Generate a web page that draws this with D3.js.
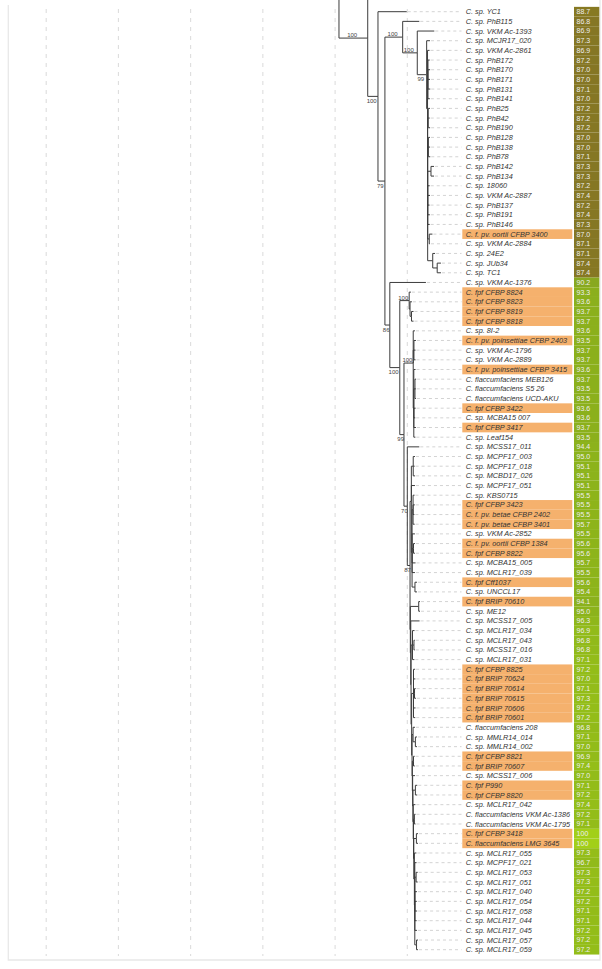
<!DOCTYPE html>
<html>
<head>
<meta charset="utf-8">
<script src="https://cdn.jsdelivr.net/npm/d3@7"></script>
<style>
  body { margin: 0; background: #fff; }
  text { font-family: "Liberation Sans", Arial, sans-serif; }
</style>
</head>
<body>
<div id="tree"></div>
<script>
// leaf labels, top to bottom
const taxa = [
  "C. sp. YC1","C. sp. PhB115","C. sp. VKM Ac-1393","C. sp. MCJR17_020","C. sp. VKM Ac-2861",
  "C. sp. PhB172","C. sp. PhB170","C. sp. PhB171","C. sp. PhB131","C. sp. PhB141",
  "C. sp. PhB25","C. sp. PhB42","C. sp. PhB190","C. sp. PhB128","C. sp. PhB138",
  "C. sp. PhB78","C. sp. PhB142","C. sp. PhB134","C. sp. 18060","C. sp. VKM Ac-2887",
  "C. sp. PhB137","C. sp. PhB191","C. sp. PhB146","C. f. pv. oortii CFBP 3400","C. sp. VKM Ac-2884",
  "C. sp. 24E2","C. sp. JUb34","C. sp. TC1","C. sp. VKM Ac-1376","C. fpf CFBP 8824",
  "C. fpf CFBP 8823","C. fpf CFBP 8819","C. fpf CFBP 8818","C. sp. 8I-2","C. f. pv. poinsettiae CFBP 2403",
  "C. sp. VKM Ac-1796","C. sp. VKM Ac-2889","C. f. pv. poinsettiae CFBP 3415","C. flaccumfaciens MEB126","C. flaccumfaciens S5 26",
  "C. flaccumfaciens UCD-AKU","C. fpf CFBP 3422","C. sp. MCBA15 007","C. fpf CFBP 3417","C. sp. Leaf154",
  "C. sp. MCSS17_011","C. sp. MCPF17_003","C. sp. MCPF17_018","C. sp. MCBD17_026","C. sp. MCPF17_051",
  "C. sp. KBS0715","C. fpf CFBP 3423","C. f. pv. betae CFBP 2402","C. f. pv. betae CFBP 3401","C. sp. VKM Ac-2852",
  "C. f. pv. oortii CFBP 1384","C. fpf CFBP 8822","C. sp. MCBA15_005","C. sp. MCLR17_039","C. fpf Cff1037",
  "C. sp. UNCCL17","C. fpf BRIP 70610","C. sp. ME12","C. sp. MCSS17_005","C. sp. MCLR17_034",
  "C. sp. MCLR17_043","C. sp. MCSS17_016","C. sp. MCLR17_031","C. fpf CFBP 8825","C. fpf BRIP 70624",
  "C. fpf BRIP 70614","C. fpf BRIP 70615","C. fpf BRIP 70606","C. fpf BRIP 70601","C. flaccumfaciens 208",
  "C. sp. MMLR14_014","C. sp. MMLR14_002","C. fpf CFBP 8821","C. fpf BRIP 70607","C. sp. MCSS17_006",
  "C. fpf P990","C. fpf CFBP 8820","C. sp. MCLR17_042","C. flaccumfaciens VKM Ac-1386","C. flaccumfaciens VKM Ac-1795",
  "C. fpf CFBP 3418","C. flaccumfaciens LMG 3645","C. sp. MCLR17_055","C. sp. MCPF17_021","C. sp. MCLR17_053",
  "C. sp. MCLR17_051","C. sp. MCLR17_040","C. sp. MCLR17_054","C. sp. MCLR17_058","C. sp. MCLR17_044",
  "C. sp. MCLR17_045","C. sp. MCLR17_057","C. sp. MCLR17_059"
];

// identity values in the right column
const ani = [
  88.7,86.8,86.9,87.3,86.9, 87.2,87.0,87.0,87.1,87.0,
  87.2,87.2,87.2,87.0,87.0, 87.1,87.3,87.3,87.2,87.4,
  87.2,87.4,87.3,87.0,87.1, 87.1,87.4,87.4,90.2,93.3,
  93.6,93.7,93.7,93.6,93.5, 93.7,93.7,93.6,93.7,93.5,
  93.5,93.6,93.6,93.7,93.5, 94.4,95.0,95.1,95.1,95.1,
  95.5,95.5,95.5,95.7,95.5, 95.6,95.6,95.7,95.5,95.6,
  95.4,94.1,95.0,96.3,96.9, 96.8,96.8,97.1,97.2,97.0,
  97.1,97.3,97.2,97.2,96.8, 97.1,97.0,96.9,97.4,97.0,
  97.1,97.2,97.4,97.2,97.1, 100,100,97.3,96.7,97.3,
  97.3,97.2,97.2,97.1,97.1, 97.2,97.2,97.2
];

// rows with the orange background
const highlighted = [23,29,30,31,32,34,37,41,43,51,52,53,55,56,59,61,68,69,70,71,72,73,77,78,80,81,85,86];

// tree (branch lengths in 0.001 subst./site); leaves are row numbers, g1/g2 continue above the view
const cladeE = "(1:11.5,(2:11.8,(3:2.3,(4:1.4,(5:1.2,6:1.5,7:1.4,8:1.6,9:1.3):0.3,"
  + "((10:1.2,11:1,12:1.3):0.4,(13:1.1,14:1.2,15:1.3):0.5,(16:2.1,17:2.1):2.3,18:1.4,19:1.6,20:1.3,21:1.5,22:1.4,"
  + "(23:2.2,24:0.5):1.1,(25:1.6,(26:2.6,27:2.6):3.1):3.5):0.1):0.6)G1:6.5)F1:10.1)E";
const cladeH = "(29:1.2,(30:1.3,(31:1.4,32:1.4):1):0.6)H";
const cladeJ = "(33:1.2,(34:1.4,35:1.1,36:1.1):0.5,(37:1.2,(38:0.8,39:0.6,40:0.7):0.8,41:1.3,42:1,43:1.5,44:1.1):0.4)J";
const cladeM1 = "((46:1.2,47:1,48:1.3):1.3,49:2.5,((50:1,51:1.2,52:0.9,53:1.1):0.7,54:2,(55:1,56:1):1,57:2.4,58:2,(59:1.4,60:1.4):2):0.5)";
let cladeM2 = "(88:1.2,(89:1.1,90:1.1):0.9,91:1.5,92:1.4,93:1.6,94:1.3,95:1.5,(96:1,97:1):1.2)";
cladeM2 = "(87:1.4," + cladeM2 + ":0.3)";
cladeM2 = "((85:1.1,86:1.1):1.8," + cladeM2 + ":0.4)";
cladeM2 = "((83:0.8,84:0.8):0.6," + cladeM2 + ":0.2)";
cladeM2 = "(82:1.5," + cladeM2 + ":0.2)";
cladeM2 = "((80:1.3,81:1.3):1.7," + cladeM2 + ":0.2)";
cladeM2 = "(79:1.6," + cladeM2 + ":0.2)";
cladeM2 = "((77:0.8,78:0.9):0.8," + cladeM2 + ":0.2)";
cladeM2 = "((74:1.3,(75:1.1,76:1.1):1.6):0.7," + cladeM2 + ":0.2)";
cladeM2 = "((68:1.1,69:1.3,(70:0.8,71:1):0.7,72:1.4,73:1.2):1.3," + cladeM2 + ":0.3)";
cladeM2 = "((64:1.4,(65:0.6,66:0.6):1,67:1.3):1," + cladeM2 + ":0.4)";
cladeM2 = "(63:6.1," + cladeM2 + ":0.2)";
cladeM2 = "((61:0.9,62:0.9):5.8," + cladeM2 + ":0.3)";
const cladeL = "(45:8.3,(" + cladeM1 + ":0.9," + cladeM2 + ":0.2)M:1.9)L";
const cladeF = "(28:25,(" + cladeH + ":6.5,(" + cladeJ + ":6.4," + cladeL + ":2.3)K:2.9)G:6.9)F";
const newick = "(g1:20,(g2:15,(0:19.9,(" + cladeE + ":12.3," + cladeF + ":3.4)D:4.8)C:7.1)B:19.9)A;";

const ghostRows = { g1: -10, g2: -3.3 };
const rootDepth = 202.7;

// bootstrap support
const supportIds = ["B","C","D","E","F1","G1","F","G","H","J","K","L","M"];
const supportVals = [100,100,79,100,100,99,86,100,100,100,99,70,87];
const supportAbove = ["B","E","F1","H","J"];

const gridTicks = [0, 50, 100, 150, 200, 250];

function parseNewick(s) {
  let i = 0;
  function node() {
    const n = {};
    if (s[i] === '(') {
      n.children = [];
      i++;
      n.children.push(node());
      while (s[i] === ',') { i++; n.children.push(node()); }
      i++;
    }
    let name = '';
    while (i < s.length && !',():;'.includes(s[i])) name += s[i++];
    n.name = name;
    n.length = 0;
    if (s[i] === ':') {
      i++;
      let len = '';
      while (i < s.length && !',();'.includes(s[i])) len += s[i++];
      n.length = +len;
    }
    return n;
  }
  return node();
}

const width = 602;
const height = 969;

const svg = d3.select('#tree').append('svg')
  .attr('width', width)
  .attr('height', height);

const x = d3.scaleLinear().domain([0, 250]).range([46.2, 407.3]);
const y = d3.scaleLinear().domain([0, taxa.length - 1]).range([11.7, 949.7]);
const rowH = y(1) - y(0);

const color = d3.scaleLinear()
  .domain([86.8, 89, 90, 96, 100])
  .range(['#857624', '#877a22', '#88a81f', '#8db51a', '#a2cf18']);

const root = d3.hierarchy(parseNewick(newick));
root.each(d => {
  d.dist = d.parent ? d.parent.dist + d.data.length : rootDepth;
});
root.eachAfter(d => {
  if (d.children) {
    d.py = d3.mean(d.children, c => c.py);
  } else {
    const r = d.data.name in ghostRows ? ghostRows[d.data.name] : +d.data.name;
    d.py = y(r);
  }
});

// dashed grid
svg.append('g').selectAll('line')
  .data(gridTicks)
  .join('line')
  .attr('x1', d => x(d)).attr('x2', d => x(d))
  .attr('y1', 9).attr('y2', 956)
  .attr('stroke', '#d0d0d0')
  .attr('stroke-width', 0.8)
  .attr('stroke-dasharray', '4,5');

// panel frame
svg.append('path')
  .attr('d', 'M8.3,5V960H600V0')
  .attr('fill', 'none')
  .attr('stroke', '#e8e8e8')
  .attr('stroke-width', 1.3);

const leaves = root.leaves().filter(d => !(d.data.name in ghostRows));

// orange highlight rows
svg.append('g').selectAll('rect')
  .data(highlighted)
  .join('rect')
  .attr('x', 462.3)
  .attr('y', d => y(d) - rowH / 2)
  .attr('width', 110)
  .attr('height', rowH)
  .attr('fill', '#f5b16d');

// leader lines
svg.append('g').selectAll('line')
  .data(leaves)
  .join('line')
  .attr('x1', d => x(d.dist) + 1).attr('x2', 461.5)
  .attr('y1', d => d.py).attr('y2', d => d.py)
  .attr('stroke', '#c8c8c8')
  .attr('stroke-width', 0.8)
  .attr('stroke-dasharray', '3,3');

// branches
svg.append('g').selectAll('path')
  .data(root.links())
  .join('path')
  .attr('d', l => `M${x(l.source.dist)},${l.source.py}V${l.target.py}H${x(l.target.dist)}`)
  .attr('fill', 'none')
  .attr('stroke', '#3c3c3c')
  .attr('stroke-width', 1);

// support values
const supportNodes = root.descendants().filter(d => supportIds.includes(d.data.name));
svg.append('g').selectAll('text')
  .data(supportNodes)
  .join('text')
  .attr('x', d => (x(d.parent.dist) + x(d.dist)) / 2 - 1.2)
  .attr('y', d => supportAbove.includes(d.data.name) ? d.py - 1 : d.py + 6.5)
  .attr('text-anchor', 'middle')
  .attr('font-size', 6)
  .attr('fill', '#444')
  .text(d => supportVals[supportIds.indexOf(d.data.name)]);

// leaf labels
svg.append('g').selectAll('text')
  .data(taxa)
  .join('text')
  .attr('x', 465.7)
  .attr('y', (d, i) => y(i))
  .attr('dy', '0.35em')
  .attr('font-size', 7.3)
  .attr('font-style', 'italic')
  .attr('fill', '#333')
  .text(d => d);

// identity column
const cells = svg.append('g').selectAll('g')
  .data(ani)
  .join('g')
  .attr('transform', (d, i) => `translate(574,${y(i)})`);

cells.append('rect')
  .attr('y', -rowH / 2)
  .attr('width', 25.3)
  .attr('height', rowH)
  .attr('fill', d => color(d));

cells.append('text')
  .attr('x', 2.6)
  .attr('dy', '0.35em')
  .attr('font-size', 7)
  .attr('fill', '#eeeeee')
  .text(d => d === 100 ? '100' : d.toFixed(1));
</script>
</body>
</html>
